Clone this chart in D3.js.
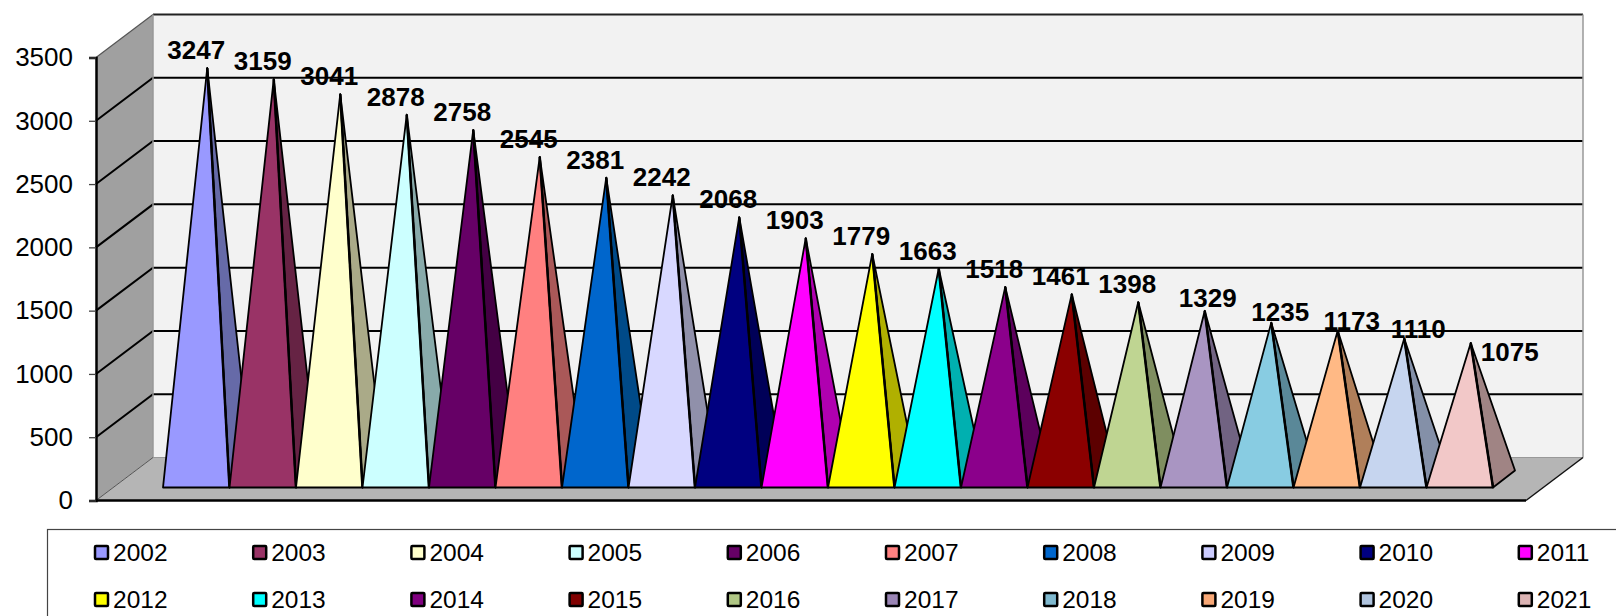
<!DOCTYPE html>
<html><head><meta charset="utf-8">
<script src="https://cdn.jsdelivr.net/npm/d3@7"></script>
<style>html,body{margin:0;padding:0;background:#fff;overflow:hidden}svg{display:block}text{font-family:"Liberation Sans",Arial,sans-serif;fill:#000}</style>
</head><body><svg id="c" width="1616" height="616"></svg>
<script>
const years=[2002,2003,2004,2005,2006,2007,2008,2009,2010,2011,2012,2013,2014,2015,2016,2017,2018,2019,2020,2021];
const values=[3247,3159,3041,2878,2758,2545,2381,2242,2068,1903,1779,1663,1518,1461,1398,1329,1235,1173,1110,1075];
const frontColors=["#9999ff","#993366","#ffffcc","#ccffff","#660066","#ff8080","#0066cc","#d8d8ff","#000080","#ff00ff","#ffff00","#00ffff","#8b008b","#8b0000","#bfd592","#a995c2","#88cce2","#ffb985","#c6d5ef","#f2c8c8"];
const sideColors=["#666aa8","#662344","#aaaa88","#88aaaa","#440044","#aa5858","#004a88","#9090aa","#000058","#b000b0","#b0b000","#00b0b0","#5c005c","#5c0000","#7f8e60","#716382","#5a8898","#b07f5a","#8490a8","#a08484"];
const legendColors=["#9999ff","#993366","#ffffcc","#ccffff","#660066","#ff8080","#0066cc","#ccccff","#000080","#ff00ff","#ffff00","#00ffff","#800080","#800000","#b0c785","#9a85b5","#7fb9cf","#f8a877","#b0c4de","#dcb4b4"];
const ticks=[0,500,1000,1500,2000,2500,3000,3500];

const svg=d3.select("#c");
const y=d3.scaleLinear().domain([0,3500]).range([500.5,57.5]);
const x=d3.scaleBand().domain(years).range([163,1493]).padding(0);
const wallX0=96,wallX1=153,depthY=43,floorRight=1526,backRight=1583;
const baseDX=22,baseDY=17,baseFront=487.5;
const zeroShift=y(0)-(baseFront-baseDY/2);
const pts=a=>a.map(p=>p.join(",")).join(" ");

// walls and floor
svg.append("polygon").attr("points",pts([[wallX1,y(3500)-depthY],[backRight,y(3500)-depthY],[backRight,y(0)-depthY],[wallX1,y(0)-depthY]])).attr("fill","#f2f2f2");
svg.append("polygon").attr("points",pts([[wallX0,y(3500)],[wallX1,y(3500)-depthY],[wallX1,y(0)-depthY],[wallX0,y(0)]])).attr("fill","#a0a0a0");
svg.append("polygon").attr("points",pts([[wallX0,y(0)],[wallX1,y(0)-depthY],[backRight,y(0)-depthY],[floorRight,y(0)]])).attr("fill","#b5b5b5");

// gridlines
const inner=ticks.filter(t=>t>0&&t<3500);
svg.append("g").selectAll("polyline").data(inner).join("polyline")
  .attr("points",t=>pts([[wallX0,y(t)],[wallX1,y(t)-depthY],[backRight,y(t)-depthY]]))
  .attr("fill","none").attr("stroke","#000").attr("stroke-width",2);
svg.append("polyline").attr("points",pts([[wallX0,y(3500)],[wallX1,y(3500)-depthY]])).attr("fill","none").attr("stroke","#555").attr("stroke-width",1.2);
svg.append("line").attr("x1",wallX1).attr("x2",backRight).attr("y1",y(3500)-depthY).attr("y2",y(3500)-depthY).attr("stroke","#222").attr("stroke-width",2);
svg.append("line").attr("x1",wallX1).attr("x2",wallX1).attr("y1",y(3500)-depthY).attr("y2",y(0)-depthY).attr("stroke","#999").attr("stroke-width",1.5);
svg.append("line").attr("x1",backRight).attr("x2",backRight).attr("y1",y(3500)-depthY).attr("y2",y(0)-depthY).attr("stroke","#999").attr("stroke-width",1.5);
svg.append("line").attr("x1",wallX1).attr("x2",backRight).attr("y1",y(0)-depthY).attr("y2",y(0)-depthY).attr("stroke","#999").attr("stroke-width",1);
svg.append("line").attr("x1",wallX0).attr("x2",wallX1).attr("y1",y(0)).attr("y2",y(0)-depthY).attr("stroke","#555").attr("stroke-width",1);
svg.append("line").attr("x1",floorRight).attr("x2",backRight).attr("y1",y(0)).attr("y2",y(0)-depthY).attr("stroke","#111").attr("stroke-width",1.5);
svg.append("line").attr("x1",wallX0).attr("x2",floorRight).attr("y1",y(0)).attr("y2",y(0)).attr("stroke","#000").attr("stroke-width",2.5);

// axis
const ax=svg.append("g").attr("transform",`translate(${wallX0},0)`).call(d3.axisLeft(y).tickValues(ticks).tickSize(7).tickPadding(16).tickFormat(d3.format("d")));
ax.select(".domain").attr("stroke","#000").attr("stroke-width",2.5);
ax.selectAll(".tick line").attr("stroke","#444").attr("stroke-width",1.3);
ax.selectAll("text").style("font-size","26px").style("font-family",'"Liberation Sans",Arial,sans-serif').attr("fill","#000");

// pyramids
const g=svg.append("g").selectAll("g").data(years).join("g");
const apex=(yr,i)=>[x(yr)+x.bandwidth()/2+baseDX/2,y(values[i])-zeroShift];
g.append("polygon").attr("points",(yr,i)=>pts([[x(yr)+x.bandwidth(),baseFront],[x(yr)+x.bandwidth()+baseDX,baseFront-baseDY],apex(yr,i)]))
 .attr("fill",(yr,i)=>sideColors[i]).attr("stroke","#000").attr("stroke-width",1.8).attr("stroke-linejoin","round");
g.append("polygon").attr("points",(yr,i)=>pts([[x(yr),baseFront],[x(yr)+x.bandwidth(),baseFront],apex(yr,i)]))
 .attr("fill",(yr,i)=>frontColors[i]).attr("stroke","#000").attr("stroke-width",1.8).attr("stroke-linejoin","round");
g.append("line").attr("x1",yr=>x(yr)+x.bandwidth()).attr("y1",baseFront)
 .attr("x2",(yr,i)=>apex(yr,i)[0]).attr("y2",(yr,i)=>apex(yr,i)[1]).attr("stroke","#000").attr("stroke-width",2.5);

// value labels: most sit up and left of the apex; the last few were moved by hand in the original
const labelNudge={15:[3,-4],16:[9,-2],17:[14,-1],18:[14,-1],19:[39,18]};
svg.append("g").selectAll("text").data(years).join("text")
 .attr("x",(yr,i)=>apex(yr,i)[0]+(labelNudge[i]?labelNudge[i][0]:-11))
 .attr("y",(yr,i)=>apex(yr,i)[1]+(labelNudge[i]?labelNudge[i][1]:-9))
 .attr("text-anchor","middle").attr("font-weight","bold").attr("font-size",26)
 .text((yr,i)=>values[i]);

// legend
svg.append("rect").attr("x",47.5).attr("y",529.5).attr("width",1700).attr("height",200).attr("fill","#fff").attr("stroke","#444").attr("stroke-width",1.2);
const leg=svg.append("g").selectAll("g").data(years).join("g")
 .attr("transform",(yr,i)=>`translate(${95+(i%10)*158.2},${Math.floor(i/10)===0?546:593})`);
leg.append("rect").attr("width",13).attr("height",13).attr("rx",1).attr("fill",(yr,i)=>legendColors[i]).attr("stroke","#000").attr("stroke-width",2.5);
leg.append("text").attr("x",18).attr("y",15).attr("font-size",24.5).text(yr=>yr);
</script></body></html>
